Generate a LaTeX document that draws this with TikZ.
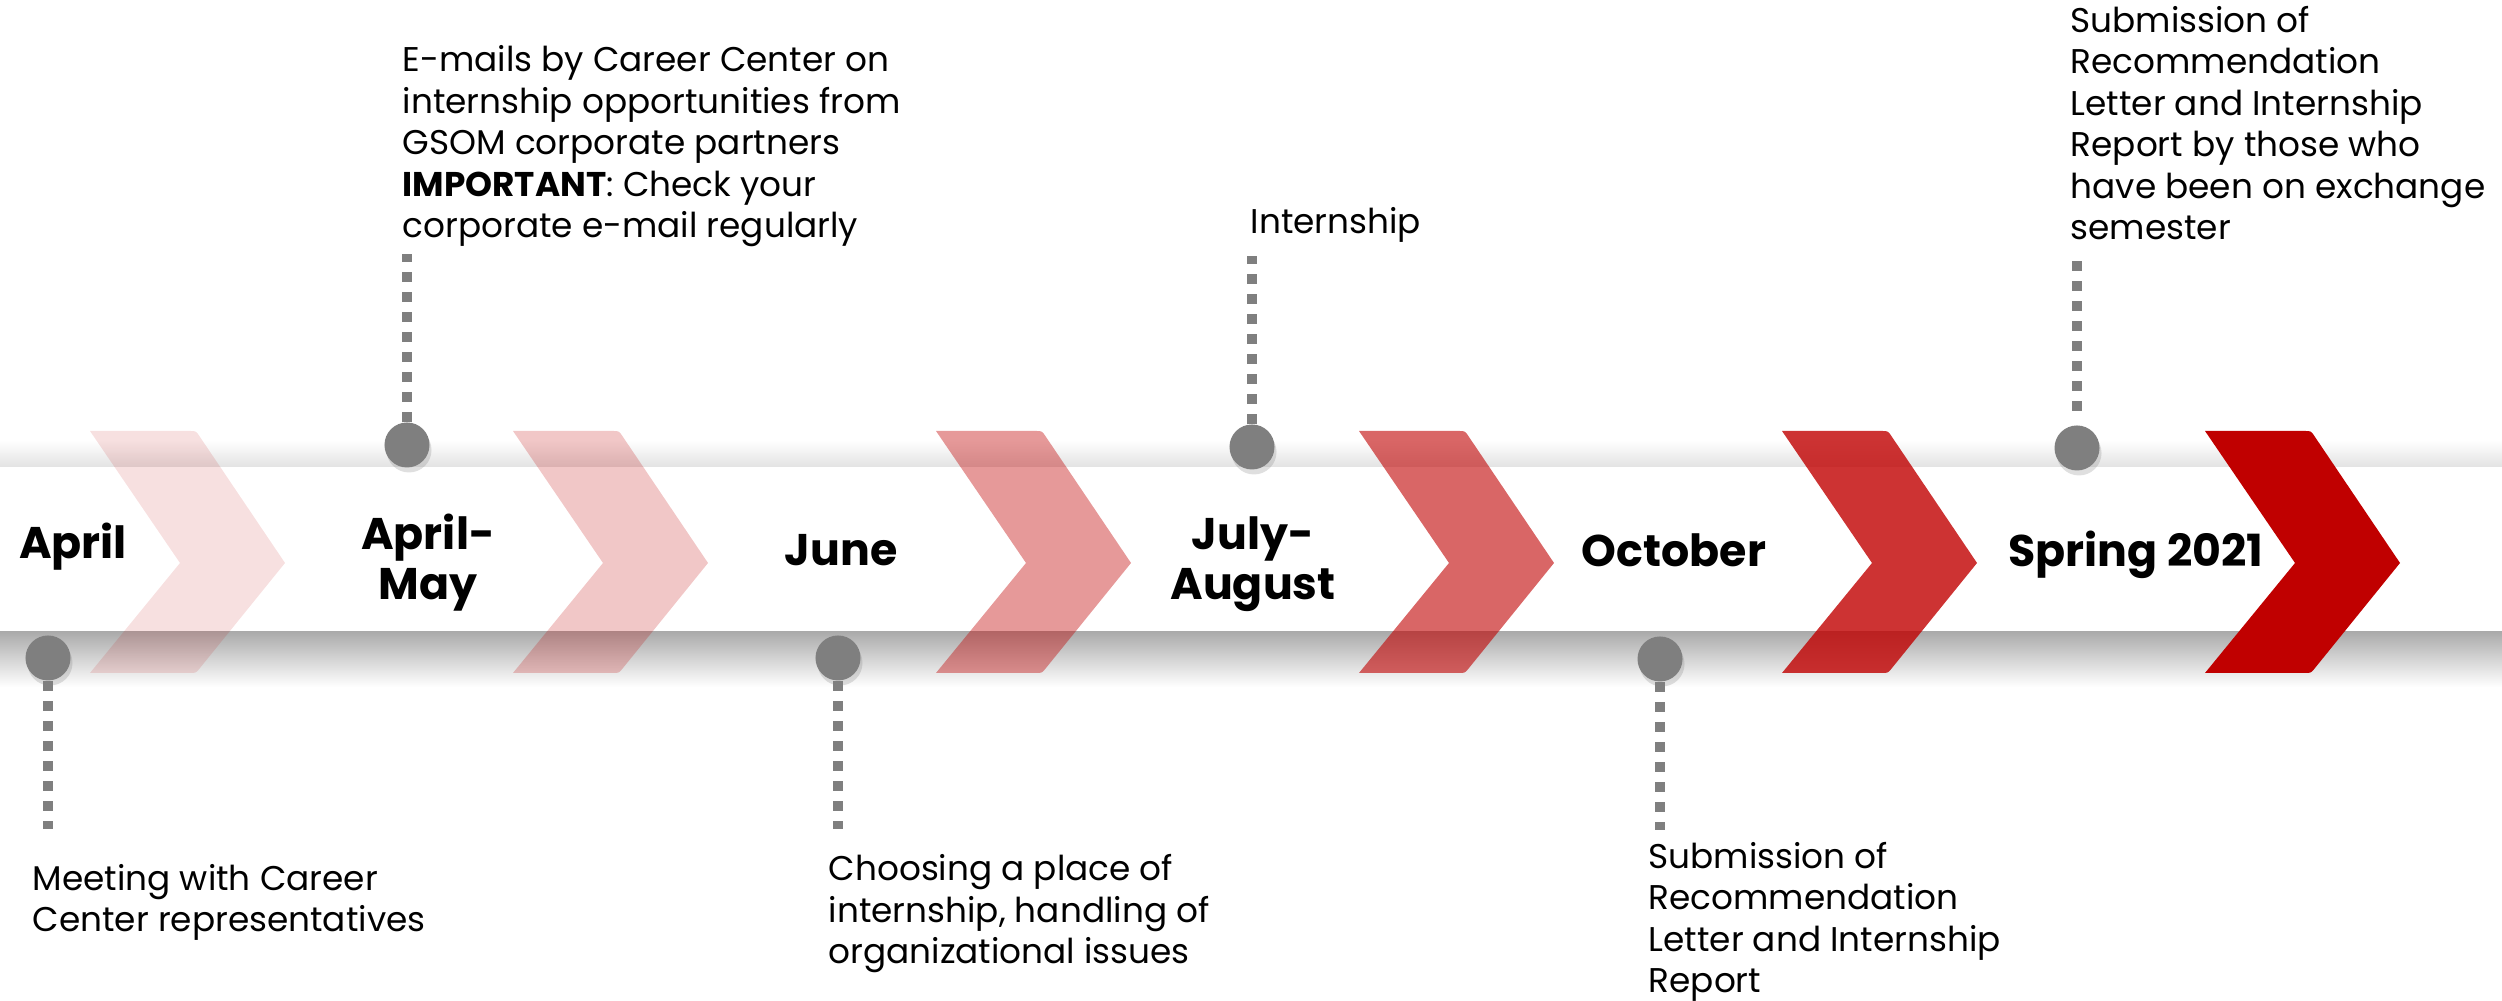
\documentclass[tikz,border=0pt]{standalone}
\usepackage{fontspec}
\setmainfont{Poppins}
\usepackage{tikz}
\usetikzlibrary{shadows}

\definecolor{dotgray}{HTML}{7F7F7F}
\definecolor{gsomred}{HTML}{C00000}

\begin{document}
\begin{tikzpicture}[%
    x=0.01cm, y=0.01cm,
    dot/.style={circle, fill=dotgray, minimum size=0.45cm, inner sep=0pt,
      drop shadow={opacity=0.25, shadow xshift=0.02cm, shadow yshift=-0.05cm}},
    leader/.style={draw=dotgray, line width=0.1cm, dash pattern=on 0.1cm off 0.1cm,
      shorten <=0.14cm},
    note/.style={font=\fontsize{9.75}{11.8}\selectfont, align=left,
      inner sep=0pt, anchor=base west},
    month/.style={font=\fontsize{12.6}{14.3}\selectfont\bfseries, align=center,
      inner sep=0pt, anchor=base},
  ]
    \useasboundingbox (0,0) rectangle (2502,1001);

    % band with its shadows
    \shade[top color=white, bottom color=black!11] (0,561) rectangle (2502,534);
    \shade[top color=black!33, bottom color=white] (0,369) rectangle (2502,314);

    % chevrons
    \foreach \L/\op in {90/0.12, 513/0.22, 936/0.4, 1359/0.6, 1782/0.8, 2205/1} {
      \fill[gsomred, fill opacity=\op] (\L,570) -- ({\L+100},570)
        .. controls ({\L+106},570) .. ({\L+110},564) -- ({\L+195},438)
        -- ({\L+110},333) .. controls ({\L+106},328) .. ({\L+100},328)
        -- (\L,328) -- ({\L+90},438) -- cycle;
    }

    % months (base = last line)
    \node[month] (mA) at (73,442)   {April};
    \node[month] (mB) at (428,401)  {April-\\May};
    \node[month] (mC) at (841,435)  {June};
    \node[month] (mD) at (1253,401) {July-\\August};
    \node[month] (mE) at (1674,434) {October};
    \node[month] (mF) at (2136,434) {Spring 2021};

    % notes (base = last line)
    \node[note] (tA) at (32,69)    {Meeting with Career\\Center representatives};
    \node[note] (tB) at (402,763)  {E-mails by Career Center on\\internship opportunities from\\GSOM corporate partners\\\textbf{IMPORTANT}: Check your\\corporate e-mail regularly};
    \node[note] (tC) at (828,37)   {Choosing a place of\\internship, handling of\\organizational issues};
    \node[note] (tD) at (1250,767) {Internship};
    \node[note] (tE) at (1648,8)   {Submission of\\Recommendation\\Letter and Internship\\Report};
    \node[note] (tF) at (2070,761) {Submission of\\Recommendation\\Letter and Internship\\Report by those who\\have been on exchange\\semester};

    % dots and leaders
    \node[dot] (dA) at (48,343)   {};
    \node[dot] (dB) at (407,556)  {};
    \node[dot] (dC) at (838,343)  {};
    \node[dot] (dD) at (1252,554) {};
    \node[dot] (dE) at (1660,342) {};
    \node[dot] (dF) at (2077,553) {};

    \coordinate (eA) at (48,172);
    \coordinate (eB) at (407,747);
    \coordinate (eC) at (838,172);
    \coordinate (eD) at (1252,745);
    \coordinate (eE) at (1660,171);
    \coordinate (eF) at (2077,744);

    \path[leader]
    (dA) -- (eA)
    (dB) -- (eB)
    (dC) -- (eC)
    (dD) -- (eD)
    (dE) -- (eE)
    (dF) -- (eF)
    ;
  \end{tikzpicture}
\end{document}
